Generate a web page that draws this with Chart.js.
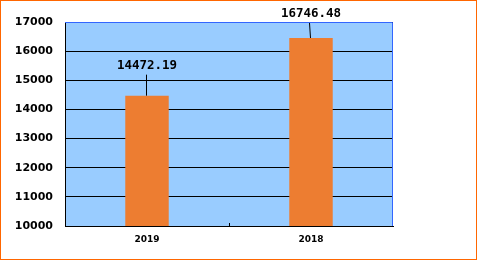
<!DOCTYPE html>
<html>
<head>
<meta charset="utf-8">
<script src="https://cdn.jsdelivr.net/npm/chart.js@4.4.0/dist/chart.umd.min.js"></script>
<style>
  html, body { margin:0; padding:0; background:#fff; }
  #wrap { position:relative; width:477px; height:261px; }
  #frame { position:absolute; left:0; top:0; width:477px; height:260px; box-sizing:border-box; border:1px solid #FF6600; pointer-events:none; }
  canvas { position:absolute; left:0; top:0; }
</style>
</head>
<body>
<div id="wrap">
  <canvas id="chart" width="477" height="261"></canvas>
  <div id="frame"></div>
</div>
<script>
// data
const years = ['2019', '2018'];
const barValues = [14472.19, 16450];
const valueLabels = ['14472.19', '16746.48'];
const yTicks = [10000, 11000, 12000, 13000, 14000, 15000, 16000, 17000];

// plot background + blue top/right frame, middle tick, value labels with leader lines
const decorate = {
  id: 'decorate',
  beforeDraw(chart) {
    const a = chart.chartArea, ctx = chart.ctx;
    ctx.save();
    ctx.fillStyle = '#99CCFF';
    ctx.fillRect(a.left, a.top, a.right - a.left, a.bottom - a.top);
    ctx.restore();
  },
  afterDraw(chart) {
    const a = chart.chartArea, ctx = chart.ctx;
    ctx.save();
    ctx.strokeStyle = '#3366FF';
    ctx.lineWidth = 1;
    ctx.beginPath();
    ctx.moveTo(a.left, a.top + 0.5);
    ctx.lineTo(a.right - 0.5, a.top + 0.5);
    ctx.lineTo(a.right - 0.5, a.bottom);
    ctx.stroke();

    // small inward tick between the two categories
    const xs = chart.scales.x;
    const mid = Math.round((xs.getPixelForValue(0) + xs.getPixelForValue(1)) / 2) + 0.5;
    ctx.strokeStyle = '#000';
    ctx.beginPath();
    ctx.moveTo(mid, a.bottom);
    ctx.lineTo(mid, a.bottom - 3);
    ctx.stroke();

    // value labels
    const meta = chart.getDatasetMeta(0);
    ctx.font = 'bold 12.5px "DejaVu Sans Mono"';
    ctx.fillStyle = '#000';
    ctx.textAlign = 'center';
    ctx.textBaseline = 'middle';
    meta.data.forEach((bar, i) => {
      const x = Math.round(bar.x) - 1;
      const labelY = Math.max(bar.y - 30, 14);
      ctx.strokeStyle = '#000';
      ctx.beginPath();
      ctx.moveTo(x + 0.5, bar.y);
      ctx.lineTo(x + 0.5 - (labelY === 14 ? 1 : 0), labelY + 9);
      ctx.stroke();
      ctx.fillText(valueLabels[i], x + 1, labelY);
    });
    ctx.restore();
  }
};

new Chart(document.getElementById('chart').getContext('2d'), {
  type: 'bar',
  data: {
    labels: years,
    datasets: [{
      data: barValues,
      backgroundColor: '#ED7D31',
      borderWidth: 0,
      barPercentage: 0.265,
      categoryPercentage: 1
    }]
  },
  options: {
    responsive: false,
    animation: false,
    layout: { padding: { top: 22, right: 84, left: 0, bottom: 0 } },
    plugins: { legend: { display: false }, tooltip: { enabled: false } },
    scales: {
      x: {
        grid: { display: false, drawTicks: false },
        border: { display: true, color: '#000', width: 1 },
        ticks: { color: '#000', padding: 8, font: { family: 'DejaVu Sans', size: 9, weight: 'bold' } },
        afterFit(s) { s.height = 35; }
      },
      y: {
        min: 10000,
        max: 17000,
        afterBuildTicks(s) { s.ticks = yTicks.map(v => ({ value: v })); },
        grid: { color: '#000', lineWidth: 1, drawTicks: false },
        border: { display: true, color: '#000', width: 1 },
        ticks: {
          color: '#000', padding: 12,
          font: { family: 'DejaVu Sans', size: 11, weight: 'bold' },
          callback: v => String(v)
        },
        afterFit(s) { s.width = 65; }
      }
    }
  },
  plugins: [decorate]
});
</script>
</body>
</html>
